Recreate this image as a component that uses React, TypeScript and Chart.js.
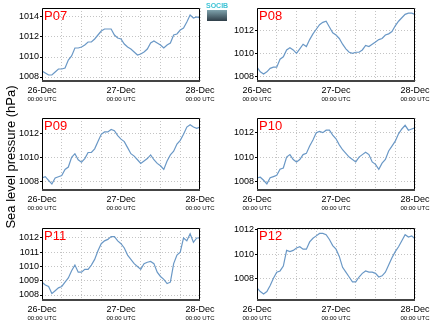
import React, { useEffect, useRef } from "react";
import { Chart, registerables } from "chart.js";

Chart.register(...registerables);

const HOURS = [0, 1, 2, 3, 4, 5, 6, 7, 8, 9, 10, 11, 12, 13, 14, 15, 16, 17, 18, 19, 20, 21, 22, 23, 24, 25, 26, 27, 28, 29, 30, 31, 32, 33, 34, 35, 36, 37, 38, 39, 40, 41, 42, 43, 44, 45, 46, 47, 48];

const P07 = [1008.6, 1008.4, 1008.2, 1008.2, 1008.5, 1008.8, 1008.8, 1008.9, 1009.7, 1010.1, 1010.9, 1010.9, 1011.0, 1011.2, 1011.5, 1011.5, 1011.8, 1012.2, 1012.6, 1012.8, 1012.8, 1012.8, 1012.2, 1011.9, 1011.8, 1011.3, 1011.0, 1010.8, 1010.5, 1010.2, 1010.3, 1010.5, 1010.8, 1011.4, 1011.6, 1011.4, 1011.2, 1010.9, 1011.2, 1011.4, 1012.2, 1012.3, 1012.7, 1012.9, 1013.5, 1014.2, 1013.9, 1014.0, 1013.9];
const P08 = [1008.8, 1008.4, 1008.2, 1008.4, 1008.7, 1008.8, 1008.8, 1009.5, 1009.7, 1010.3, 1010.5, 1010.3, 1010.0, 1010.4, 1010.8, 1010.6, 1011.2, 1011.7, 1012.1, 1012.5, 1012.7, 1012.8, 1012.3, 1011.8, 1011.6, 1011.3, 1010.8, 1010.4, 1010.1, 1010.0, 1010.1, 1010.1, 1010.3, 1010.7, 1010.6, 1010.8, 1011.0, 1011.2, 1011.3, 1011.6, 1011.7, 1011.9, 1012.4, 1012.8, 1013.1, 1013.4, 1013.5, 1013.5, 1013.4];
const P09 = [1008.3, 1008.4, 1008.1, 1007.8, 1008.3, 1008.4, 1008.5, 1009.0, 1009.2, 1010.0, 1010.3, 1009.8, 1009.6, 1009.9, 1010.4, 1010.4, 1010.7, 1011.3, 1011.9, 1012.1, 1012.1, 1012.3, 1012.2, 1011.8, 1011.5, 1011.3, 1010.8, 1010.3, 1010.1, 1009.8, 1009.5, 1009.7, 1009.9, 1010.2, 1009.8, 1009.5, 1009.3, 1009.0, 1009.7, 1010.2, 1010.5, 1011.1, 1011.4, 1011.9, 1012.5, 1012.7, 1012.5, 1012.4, 1012.5];
const P10 = [1008.3, 1008.35, 1008.1, 1007.8, 1008.3, 1008.4, 1008.5, 1009.0, 1009.1, 1010.0, 1010.2, 1009.8, 1009.6, 1009.8, 1010.2, 1010.3, 1010.9, 1011.4, 1012.0, 1012.1, 1012.0, 1012.2, 1012.2, 1011.8, 1011.5, 1011.0, 1010.6, 1010.3, 1010.0, 1009.8, 1009.6, 1010.0, 1010.2, 1010.4, 1010.2, 1009.6, 1009.4, 1009.0, 1009.5, 1009.8, 1010.5, 1010.9, 1011.3, 1011.9, 1012.3, 1012.6, 1012.2, 1012.3, 1012.4];
const P11 = [1008.9, 1008.7, 1008.6, 1008.1, 1008.3, 1008.5, 1008.6, 1008.9, 1009.2, 1009.7, 1010.1, 1009.6, 1009.6, 1009.8, 1009.8, 1010.1, 1010.5, 1011.1, 1011.6, 1011.8, 1011.9, 1012.1, 1012.1, 1011.8, 1011.6, 1011.3, 1010.8, 1010.5, 1010.2, 1010.0, 1009.8, 1010.2, 1010.3, 1010.35, 1010.2, 1009.6, 1009.3, 1009.1, 1008.8, 1008.9, 1010.2, 1010.8, 1011.0, 1012.0, 1011.8, 1012.3, 1011.7, 1012.0, 1012.0];
const P12 = [1007.2, 1006.9, 1006.7, 1006.9, 1007.4, 1008.0, 1008.5, 1008.6, 1009.0, 1010.3, 1010.2, 1010.3, 1010.5, 1010.6, 1010.4, 1010.4, 1011.0, 1011.3, 1011.5, 1011.7, 1011.7, 1011.6, 1011.2, 1010.7, 1010.4, 1009.8, 1008.9, 1008.5, 1008.1, 1007.7, 1007.7, 1008.1, 1008.4, 1008.6, 1008.5, 1008.5, 1008.4, 1008.1, 1008.2, 1008.5, 1009.1, 1009.7, 1010.2, 1010.6, 1011.1, 1011.6, 1011.4, 1011.5, 1011.25];

const DAY_LABELS = ["26-Dec", "27-Dec", "28-Dec"];
const DAY_HOURS = [0, 24, 48];
const TIME_LABEL = "00:00 UTC";
const Y_TITLE = "Sea level pressure (hPa)";
const LOGO_TEXT = "SOCIB";

const FONT = "'Liberation Sans', Arial, Helvetica, sans-serif";
const LINE_COLOR = "#6a98c6";
const GRID_COLOR = "#c4c4c4";

type PanelDef = {
  name: string;
  values: number[];
  yMin: number;
  yMax: number;
  yStep: number;
  left: number;
  top: number;
  width: number;
  height: number;
  axisW: number;
  axisH: number;
  padRight: number;
  padTop: number;
};

const PANELS: PanelDef[] = [
  { name: "P07", values: P07, yMin: 1007.6, yMax: 1014.9, yStep: 2, left: 14, top: 0, width: 208, height: 110, axisW: 28, axisH: 29, padRight: 22, padTop: 8 },
  { name: "P08", values: P08, yMin: 1007.6, yMax: 1013.95, yStep: 2, left: 222, top: 0, width: 212, height: 110, axisW: 35, axisH: 29, padRight: 19, padTop: 8 },
  { name: "P09", values: P09, yMin: 1007.3, yMax: 1013.25, yStep: 2, left: 14, top: 110, width: 208, height: 110, axisW: 28, axisH: 30, padRight: 22, padTop: 8 },
  { name: "P10", values: P10, yMin: 1007.3, yMax: 1013.2, yStep: 2, left: 222, top: 110, width: 212, height: 110, axisW: 35, axisH: 30, padRight: 19, padTop: 8 },
  { name: "P11", values: P11, yMin: 1007.65, yMax: 1012.7, yStep: 1, left: 14, top: 220, width: 208, height: 107, axisW: 28, axisH: 27, padRight: 22, padTop: 8 },
  { name: "P12", values: P12, yMin: 1006.2, yMax: 1012.15, yStep: 2, left: 222, top: 220, width: 212, height: 107, axisW: 35, axisH: 27, padRight: 19, padTop: 8 },
];

const framePlugin = {
  id: "frameAndLabels",
  afterDraw(chart: any) {
    const { ctx, chartArea } = chart;
    const { left, top, right, bottom } = chartArea;
    const name = chart.options.plugins.frameAndLabels?.name || "";
    ctx.save();
    ctx.strokeStyle = "#000";
    ctx.lineWidth = 1;
    ctx.beginPath();
    ctx.moveTo(left + 0.5, bottom);
    ctx.lineTo(left + 0.5, top + 0.5);
    ctx.lineTo(right - 0.5, top + 0.5);
    ctx.lineTo(right - 0.5, bottom);
    ctx.stroke();
    ctx.strokeStyle = "#444";
    ctx.lineWidth = 2;
    ctx.beginPath();
    ctx.moveTo(left, bottom);
    ctx.lineTo(right, bottom);
    ctx.stroke();

    ctx.fillStyle = "#ff0000";
    ctx.font = `13px ${FONT}`;
    ctx.textAlign = "left";
    ctx.textBaseline = "alphabetic";
    ctx.fillText(name, left + 2, top + 11.5);

    const xs = chart.scales.x;
    ctx.fillStyle = "#000";
    ctx.textAlign = "center";
    DAY_HOURS.forEach((h, i) => {
      const px = xs.getPixelForValue(h);
      ctx.font = `9px ${FONT}`;
      ctx.fillText(DAY_LABELS[i], px, bottom + 12);
      ctx.font = `6px ${FONT}`;
      ctx.fillText(TIME_LABEL, px, bottom + 20);
    });
    ctx.restore();
  },
};

function Panel({ def }: { def: PanelDef }) {
  const ref = useRef<HTMLCanvasElement>(null);
  useEffect(() => {
    if (!ref.current) return;
    const chart = new Chart(ref.current, {
      type: "line",
      data: {
        datasets: [
          {
            data: HOURS.map((h, i) => ({ x: h, y: def.values[i] })),
            borderColor: LINE_COLOR,
            borderWidth: 1.2,
            pointRadius: 0,
            fill: false,
            tension: 0,
          },
        ],
      },
      options: {
        animation: false,
        responsive: false,
        maintainAspectRatio: false,
        layout: { padding: { top: def.padTop, right: def.padRight, left: 0, bottom: 0 } },
        plugins: {
          legend: { display: false },
          tooltip: { enabled: false },
          title: { display: false },
          frameAndLabels: { name: def.name },
        } as any,
        scales: {
          x: {
            type: "linear",
            min: 0,
            max: 48,
            ticks: { stepSize: 6, display: false },
            grid: { color: GRID_COLOR, drawTicks: false, tickLength: 0, lineWidth: 1 },
            border: { display: false, dash: [1, 2] },
            afterFit: (s: any) => {
              s.height = def.axisH;
            },
          },
          y: {
            type: "linear",
            min: def.yMin,
            max: def.yMax,
            ticks: {
              stepSize: def.yStep,
              includeBounds: false,
              color: "#000",
              padding: 1,
              font: { family: FONT, size: 9 },
              callback: (v: any) => String(v),
            },
            grid: { color: GRID_COLOR, tickColor: "#000", tickLength: 2, tickBorderDash: [], lineWidth: 1 },
            border: { display: false, dash: [1, 2] },
            afterFit: (s: any) => {
              s.width = def.axisW;
            },
          },
        } as any,
      },
      plugins: [framePlugin],
    });
    return () => chart.destroy();
  }, [def]);
  return (
    <canvas
      ref={ref}
      width={def.width}
      height={def.height}
      style={{ position: "absolute", left: def.left, top: def.top, width: def.width, height: def.height }}
    />
  );
}

export default function App() {
  return (
    <div style={{ position: "absolute", left: 0, top: 0, width: 434, height: 327, background: "#fff", overflow: "hidden" }}>
      {PANELS.map((p) => (
        <Panel key={p.name} def={p} />
      ))}
      <div
        style={{
          position: "absolute",
          left: -89,
          top: 149,
          width: 200,
          height: 16,
          lineHeight: "16px",
          textAlign: "center",
          transform: "rotate(-90deg)",
          transformOrigin: "100px 8px",
          whiteSpace: "nowrap",
          fontFamily: FONT,
          fontSize: 13,
          fontWeight: 400,
          color: "#000",
        }}
      >
        {Y_TITLE}
      </div>
      <div
        style={{
          position: "absolute",
          left: 206,
          top: 2,
          width: 22,
          textAlign: "center",
          fontFamily: FONT,
          fontSize: 7,
          fontWeight: 700,
          lineHeight: "7px",
          color: "#3ec3d6",
        }}
      >
        {LOGO_TEXT}
      </div>
      <div
        style={{
          position: "absolute",
          left: 207,
          top: 10,
          width: 20,
          height: 11,
          background: "linear-gradient(#7fa3ad, #2f3e48)",
        }}
      />
    </div>
  );
}
